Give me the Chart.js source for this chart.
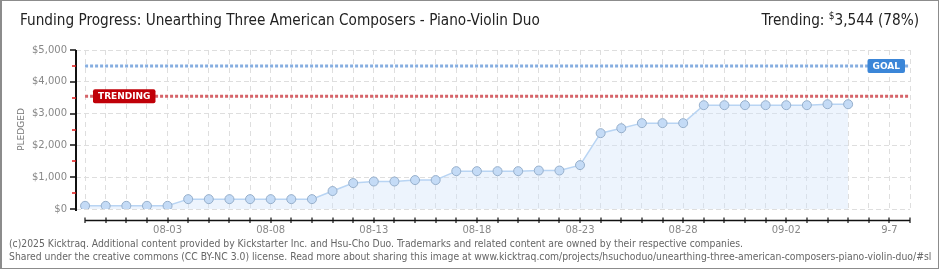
<!DOCTYPE html>
<html><head><meta charset="utf-8">
<script src="https://cdn.jsdelivr.net/npm/chart.js@4/dist/chart.umd.min.js"></script>
<style>
html,body{margin:0;padding:0;background:#fff;}
#wrap{position:relative;width:940px;height:270px;overflow:hidden;background:#fff;}
#frame{position:absolute;left:0;top:0;width:939px;height:269px;box-sizing:border-box;border:1px solid #8c8c8c;border-left-width:2px;pointer-events:none;}
canvas{position:absolute;left:0;top:0;}
#title{position:absolute;left:20px;top:11px;font:15.2px "Liberation Sans Narrow","DejaVu Sans Condensed",sans-serif;color:#222;white-space:nowrap;}
#trend{position:absolute;right:21px;top:11px;font:15.2px "Liberation Sans Narrow","DejaVu Sans Condensed",sans-serif;color:#222;white-space:nowrap;}
#trend sup{font-size:10px;vertical-align:6px;line-height:0;}
.foot{position:absolute;left:9px;font:10.3px "Liberation Sans Narrow","DejaVu Sans Condensed",sans-serif;color:#666;white-space:nowrap;}
</style></head>
<body>
<div id="wrap">
<canvas id="c" width="940" height="270"></canvas>
<div id="title">Funding Progress: Unearthing Three American Composers - Piano-Violin Duo</div>
<div id="trend">Trending: <sup>$</sup>3,544 (78%)</div>
<div class="foot" style="top:237px">(c)2025 Kicktraq. Additional content provided by Kickstarter Inc. and Hsu-Cho Duo. Trademarks and related content are owned by their respective companies.</div>
<div class="foot" style="top:250px">Shared under the creative commons (CC BY-NC 3.0) license. Read more about sharing this image at www.kicktraq.com/projects/hsuchoduo/unearthing-three-american-composers-piano-violin-duo/#sl</div>
<div id="frame"></div>
</div>
<script>
const dates = ['07-30','07-31','08-01','08-02','08-03','08-04','08-05','08-06','08-07','08-08',
  '08-09','08-10','08-11','08-12','08-13','08-14','08-15','08-16','08-17','08-18',
  '08-19','08-20','08-21','08-22','08-23','08-24','08-25','08-26','08-27','08-28',
  '08-29','08-30','08-31','09-01','09-02','09-03','09-04','09-05','09-06','09-07','09-08'];
const pledged = [100,100,100,100,100,310,310,310,310,310,
  310,310,565,815,865,865,910,910,1190,1190,
  1190,1190,1210,1210,1380,2385,2540,2700,2700,2700,
  3265,3265,3265,3265,3265,3265,3295,3295];
const tickDates = ['08-03','08-08','08-13','08-18','08-23','08-28','09-02','09-07'];
const tickTexts = ['08-03','08-08','08-13','08-18','08-23','08-28','09-02','9-7'];
const goal = 4500;
const trending = 3544;
const yMax = 5000;
const yStep = 500;

const last = dates.length - 1;
const fontTick = {family: 'DejaVu Sans', size: 10};

const overlay = {
  id: 'overlay',
  afterDatasetsDraw(chart) {
    const {ctx, chartArea: a, scales: {x, y}} = chart;
    ctx.save();
    // y axis line and its tick marks
    const ax = a.left;
    ctx.strokeStyle = '#111';
    ctx.lineWidth = 2;
    ctx.beginPath();
    ctx.moveTo(ax, y.getPixelForValue(yMax));
    ctx.lineTo(ax, y.getPixelForValue(0) + 2);
    ctx.stroke();
    y.ticks.forEach(t => {
      const py = Math.round(y.getPixelForValue(t.value));
      const major = t.value % 1000 === 0;
      ctx.strokeStyle = major ? '#111' : '#e01818';
      ctx.lineWidth = 1.5;
      ctx.beginPath();
      ctx.moveTo(major ? ax - 6 : ax - 4, py);
      ctx.lineTo(ax, py);
      ctx.stroke();
    });
    // x axis line + ticks below plot
    const ay = a.bottom + 11.5;
    ctx.strokeStyle = '#111';
    ctx.lineWidth = 1.5;
    ctx.beginPath();
    ctx.moveTo(x.getPixelForValue(0), ay);
    ctx.lineTo(x.getPixelForValue(last), ay);
    ctx.stroke();
    ctx.lineWidth = 1.2;
    x.ticks.forEach(t => {
      const px = Math.round(x.getPixelForValue(t.value));
      ctx.beginPath();
      ctx.moveTo(px, ay - 3);
      ctx.lineTo(px, ay + 2.5);
      ctx.stroke();
    });
    // labels on reference lines
    ctx.font = 'bold 9px "DejaVu Sans"';
    ctx.textBaseline = 'middle';
    ctx.textAlign = 'center';
    const box = (text, color, left, right, val) => {
      const w = ctx.measureText(text).width + 10;
      const cy = y.getPixelForValue(val);
      const bx = left !== null ? left : right - w;
      ctx.fillStyle = color;
      ctx.beginPath();
      ctx.roundRect(bx, cy - 7, w, 14, 2);
      ctx.fill();
      ctx.fillStyle = '#fff';
      ctx.fillText(text, bx + w / 2, cy + 0.5);
    };
    box('GOAL', '#3b86d8', null, a.right - 5, goal);
    box('TRENDING', '#c00008', a.left + 17, null, trending);
    ctx.restore();
  }
};

new Chart(document.getElementById('c'), {
  type: 'line',
  data: {
    datasets: [
      {
        data: pledged.map((v, i) => ({x: i, y: v})),
        borderColor: '#b8d4f3',
        borderWidth: 1.5,
        backgroundColor: 'rgba(210,228,250,0.4)',
        fill: 'origin',
        tension: 0,
        pointRadius: 4.5,
        pointBackgroundColor: '#c4dbf6',
        pointBorderColor: '#96afcb',
        pointBorderWidth: 1,
        order: 0
      },
      {
        data: [{x: 0, y: goal}, {x: last, y: goal}],
        borderColor: '#86aee0',
        borderWidth: 3,
        borderDash: [3, 2],
        pointRadius: 0,
        fill: false,
        order: 1
      },
      {
        data: [{x: 0, y: trending}, {x: last, y: trending}],
        borderColor: '#d66469',
        borderWidth: 3,
        borderDash: [3, 2],
        pointRadius: 0,
        fill: false,
        order: 1
      }
    ]
  },
  options: {
    responsive: false,
    animation: false,
    events: [],
    layout: {padding: {top: 50, right: 30, bottom: 0, left: 0}},
    plugins: {legend: {display: false}, tooltip: {enabled: false}, title: {display: false}},
    scales: {
      x: {
        type: 'linear',
        min: -0.44,
        max: last,
        afterBuildTicks: s => { s.ticks = dates.map((d, i) => ({value: i})); },
        afterFit: s => { s.height = 61; },
        ticks: {
          autoSkip: false, maxRotation: 0, padding: 15, color: '#888', font: fontTick,
          callback: v => { const k = tickDates.indexOf(dates[v]); return k >= 0 ? tickTexts[k] : ''; }
        },
        grid: {color: '#dedede', lineWidth: 1, drawTicks: false},
        border: {display: false, dash: [5, 4]}
      },
      y: {
        min: 0,
        max: yMax,
        afterFit: s => { s.width = 76; },
        ticks: {
          stepSize: yStep, autoSkip: false, padding: 9, color: '#888', font: fontTick,
          callback: v => v % 1000 === 0 ? '$' + v.toLocaleString('en-US') : ''
        },
        grid: {
          color: c => (c.tick && c.tick.value % 1000 === 0) ? '#dedede' : 'rgba(0,0,0,0)',
          drawTicks: false,
          lineWidth: 1
        },
        border: {display: false, dash: [5, 3]},
        title: {display: true, text: 'PLEDGED', color: '#777', font: {family: 'DejaVu Sans', size: 9}, padding: {top: 16, bottom: 0}}
      }
    }
  },
  plugins: [overlay]
});
</script>
</body></html>
